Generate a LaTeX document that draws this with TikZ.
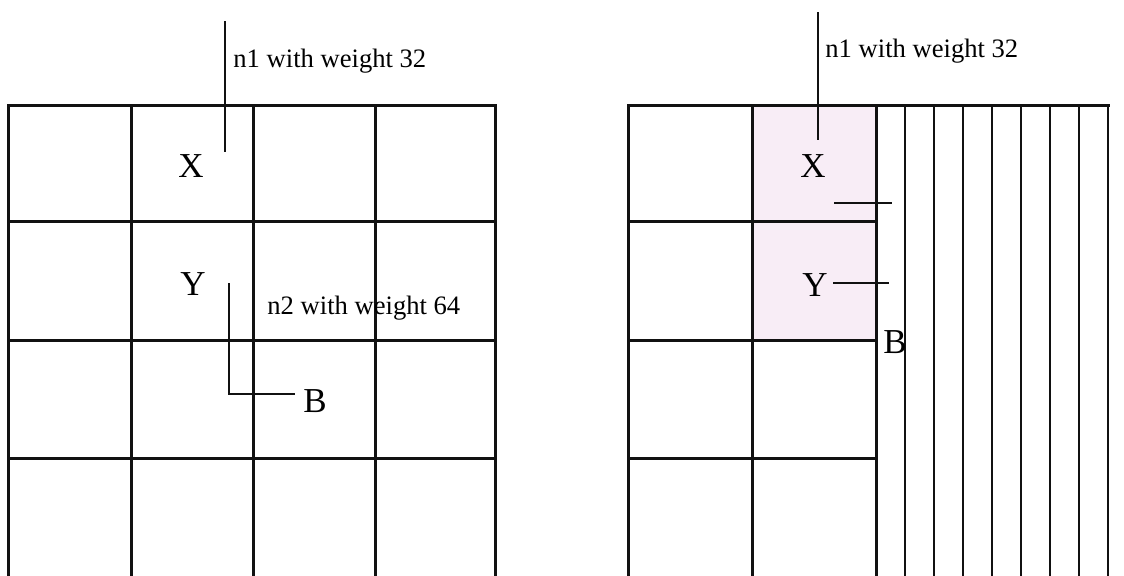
\documentclass[tikz,border=0pt]{standalone}
\usepackage{fontspec}
\setmainfont{Liberation Serif}
\usetikzlibrary{positioning}
\definecolor{cellpink}{HTML}{F8EDF6}
\definecolor{inkblack}{HTML}{111111}

\begin{document}
\begin{tikzpicture}[x=0.5pt,y=-0.5pt,line cap=rect]
  \tikzset{
    gridline/.style={inkblack,line width=1.5pt},
    stripeline/.style={inkblack,line width=1.3pt},
    leader/.style={inkblack,line width=1pt,line cap=butt},
    weightlabel/.style={font=\fontsize{13.3}{16}\selectfont,inner sep=0pt,anchor=base west},
    cellletter/.style={font=\fontsize{17.5}{20}\selectfont,inner sep=0pt,anchor=base},
  }
  \useasboundingbox (0,0) rectangle (1124,575);

  % Left panel: plain 4x4 grid, cut off at the bottom edge.
  \foreach \xx in {8,131,253,375,495}{
    \draw[gridline] (\xx,105) -- (\xx,576);
  }
  \foreach \yy in {105,221,340,458}{
    \draw[gridline] (8,\yy) -- (495,\yy);
  }

  \node[cellletter] (lx) at (191,177) {X};
  \node[cellletter] (ly) at (193,295) {Y};
  \node[cellletter,anchor=base west] (lb) at (303,412) {B};

  \coordinate (lntop) at (225,21);
  \coordinate (lnend) at (225,152);
  \draw[leader] (lntop) -- (lnend);
  \node[weightlabel] (lnone) at (233,67) {n1 with weight 32};

  \coordinate (lytail) at (229,283);
  \coordinate (lbtip) at (295,394);
  \draw[leader] (lytail) |- (lbtip);
  \node[weightlabel] (lntwo) at (267,314) {n2 with weight 64};

  % Right panel: the shaded block, two coarse columns, then thin strips.
  \fill[cellpink] (752,105) rectangle (876,340);
  \foreach \xx in {628,752,876}{
    \draw[gridline] (\xx,105) -- (\xx,576);
  }
  \foreach \k in {1,...,8}{
    \draw[stripeline] ({876+29*\k},105) -- ({876+29*\k},576);
  }
  \draw[gridline] (628,105) -- (1108,105);
  \foreach \yy in {221,340,458}{
    \draw[gridline] (628,\yy) -- (876,\yy);
  }

  \node[cellletter] (rx) at (813,177) {X};
  \node[cellletter] (ry) at (815,296) {Y};
  \node[cellletter,anchor=base west] (rb) at (883,353) {B};

  \coordinate (rntop) at (818,12);
  \coordinate (rnend) at (818,140);
  \draw[leader] (rntop) -- (rnend);
  \node[weightlabel] (rnone) at (825,57) {n1 with weight 32};

  \coordinate (rxcut) at (834,203);
  \coordinate (rxcutend) at (892,203);
  \draw[leader] (rxcut) -- (rxcutend);
  \coordinate (rycut) at (833,283);
  \coordinate (rycutend) at (889,283);
  \draw[leader] (rycut) -- (rycutend);
\end{tikzpicture}
\end{document}
